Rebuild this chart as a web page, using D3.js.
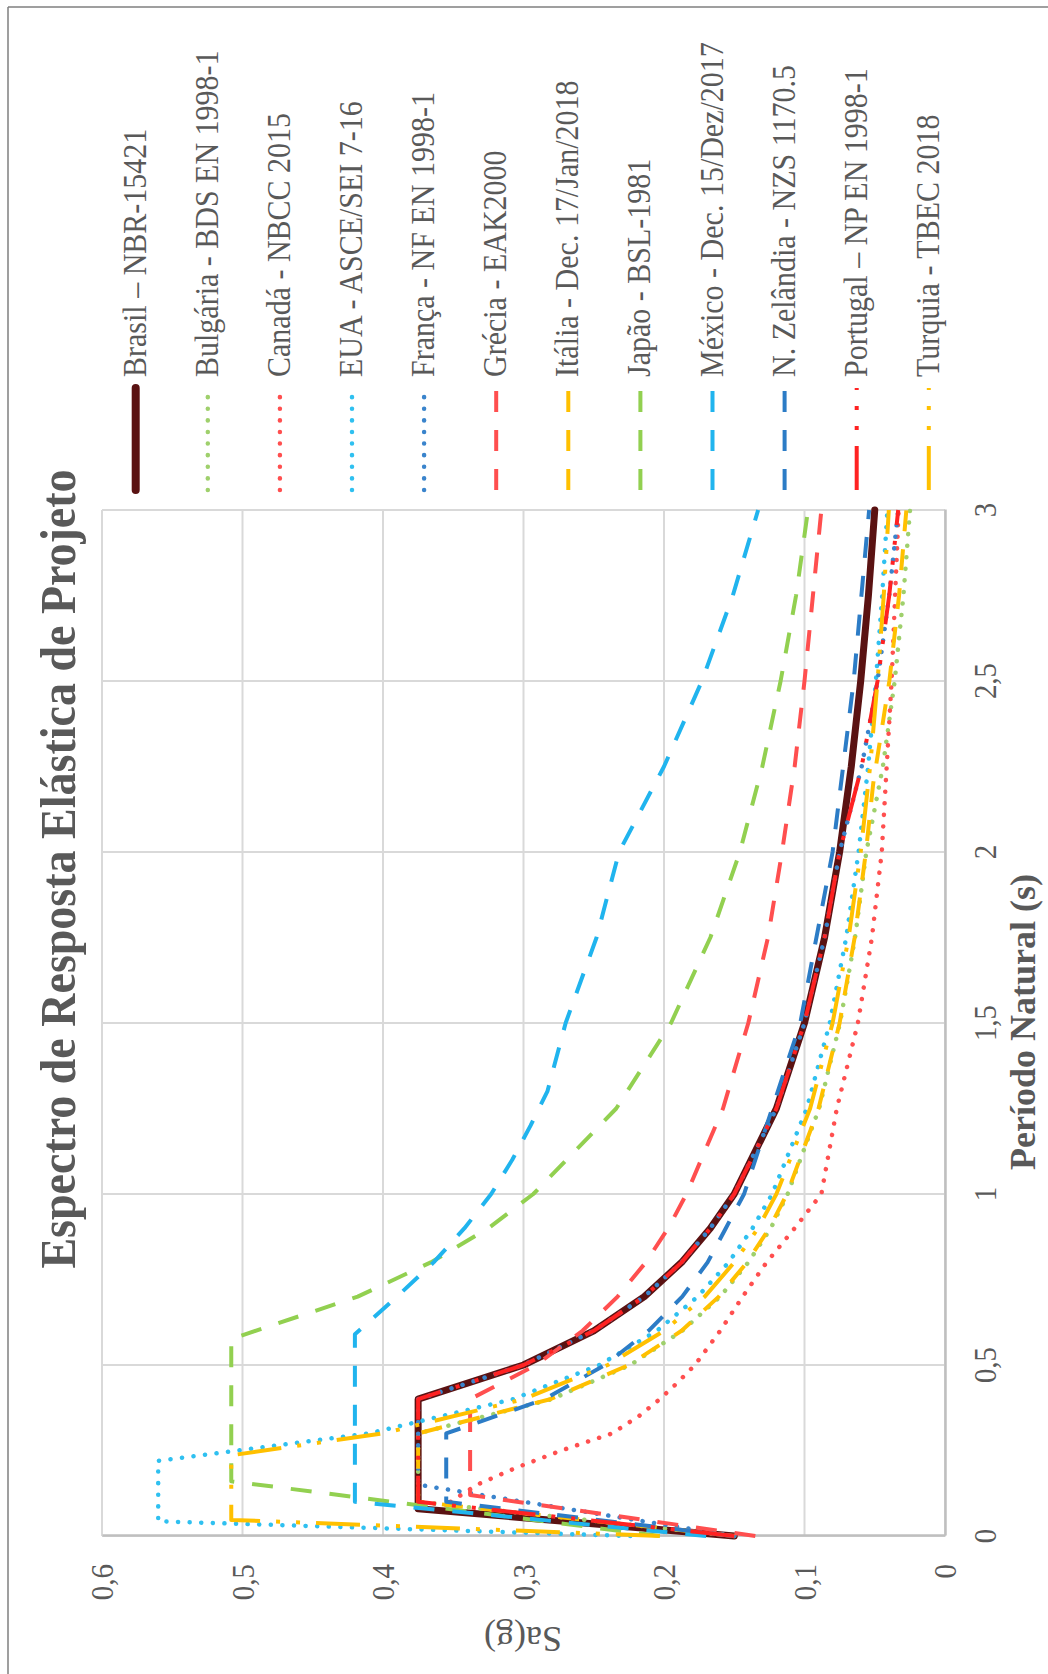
<!DOCTYPE html>
<html><head><meta charset="utf-8">
<script src="https://cdn.jsdelivr.net/npm/d3@7"></script>
<style>html,body{margin:0;padding:0;background:#fff}svg{display:block}</style>
</head><body>
<svg id="c" width="1048" height="1674"></svg>
<script>
// ---- data (period T in s, Sa in g) ----
const seriesNames = ["Brasil – NBR-15421","Bulgária - BDS EN 1998-1","Canadá - NBCC 2015","EUA - ASCE/SEI 7-16","França - NF EN 1998-1","Grécia - EAK2000","Itália - Dec. 17/Jan/2018","Japão - BSL-1981","México - Dec. 15/Dez/2017","N. Zelândia - NZS 1170.5","Portugal – NP EN 1998-1","Turquia - TBEC 2018"];
const brasil = [[0,0.15],[0.08,0.375],[0.4,0.375],[0.5,0.3],[0.6,0.25],[0.7,0.214],[0.8,0.1875],[0.9,0.167],[1,0.15],[1.25,0.12],[1.5,0.1],[1.75,0.0857],[2,0.075],[2.25,0.0667],[2.5,0.06],[2.75,0.0545],[3,0.05]];
const bulgaria = [[0,0.15],[0.1,0.375],[0.3,0.375],[0.4,0.28],[0.5,0.224],[0.6,0.187],[0.7,0.16],[0.8,0.14],[0.9,0.124],[1,0.112],[1.25,0.0896],[1.5,0.0747],[1.75,0.064],[2,0.056],[2.25,0.0442],[2.5,0.0358],[2.75,0.0296],[3,0.0249]];
const canada = [[0.1,0.352],[0.15,0.333],[0.2,0.305],[0.25,0.273],[0.3,0.237],[0.35,0.218],[0.4,0.203],[0.45,0.19],[0.5,0.178],[0.6,0.16],[0.7,0.144],[0.8,0.127],[0.9,0.107],[1,0.088],[1.25,0.077],[1.5,0.062],[1.75,0.052],[2,0.045],[2.5,0.038],[3,0.033]];
const eua = [[0,0.224],[0.043,0.56],[0.22,0.56],[0.3,0.41],[0.4,0.3075],[0.5,0.246],[0.6,0.205],[0.7,0.176],[0.8,0.154],[0.9,0.137],[1,0.123],[1.25,0.0984],[1.5,0.082],[1.75,0.0703],[2,0.0615],[2.25,0.0547],[2.5,0.0492],[2.75,0.0447],[3,0.041]];
const franca = [[0,0.15],[0.15,0.375],[0.4,0.375],[0.5,0.3],[0.6,0.25],[0.7,0.214],[0.8,0.1875],[0.9,0.167],[1,0.15],[1.25,0.12],[1.5,0.1],[1.75,0.0857],[2,0.075],[2.25,0.0593],[2.5,0.048],[2.75,0.0397],[3,0.0333]];
const grecia = [[0,0.135],[0.12,0.338],[0.4,0.338],[0.5,0.291],[0.6,0.258],[0.7,0.233],[0.8,0.213],[0.9,0.197],[1,0.184],[1.25,0.158],[1.5,0.14],[1.75,0.126],[2,0.116],[2.25,0.107],[2.5,0.1],[2.75,0.094],[3,0.088]];
const italia = [[0,0.15],[0.1,0.375],[0.3,0.375],[0.4,0.281],[0.5,0.225],[0.6,0.1875],[0.7,0.161],[0.8,0.141],[0.9,0.125],[1,0.1125],[1.25,0.09],[1.5,0.075],[1.75,0.0643],[2,0.0563],[2.2,0.0511],[2.5,0.0396],[2.75,0.0327],[3,0.0275]];
const japao = [[0,0.203],[0.16,0.508],[0.576,0.508],[0.7,0.418],[0.8,0.366],[0.9,0.325],[1,0.293],[1.25,0.234],[1.5,0.195],[1.75,0.167],[2,0.146],[2.25,0.13],[2.5,0.117],[2.75,0.106],[3,0.0975]];
const mexico = [[0,0.17],[0.1,0.42],[0.59,0.42],[0.63,0.409],[0.7,0.39],[0.8,0.364],[0.9,0.342],[1,0.323],[1.1,0.308],[1.2,0.295],[1.3,0.283],[1.5,0.27],[1.75,0.248],[2,0.232],[2.25,0.2],[2.5,0.173],[2.75,0.151],[3,0.133]];
const nzelandia = [[0,0.151],[0.1,0.355],[0.3,0.355],[0.4,0.285],[0.5,0.242],[0.6,0.211],[0.7,0.187],[0.8,0.169],[0.9,0.156],[1,0.143],[1.5,0.103],[2,0.08],[2.5,0.065],[3,0.054]];
const portugal = [[0,0.15],[0.1,0.375],[0.4,0.375],[0.5,0.3],[0.6,0.25],[0.7,0.214],[0.8,0.1875],[0.9,0.167],[1,0.15],[1.25,0.12],[1.5,0.1],[1.75,0.0857],[2,0.075],[2.25,0.0593],[2.5,0.048],[2.75,0.0397],[3,0.0333]];
const turquia = [[0,0.203],[0.047,0.508],[0.236,0.508],[0.3,0.4],[0.4,0.3],[0.5,0.24],[0.6,0.2],[0.7,0.171],[0.8,0.15],[0.9,0.133],[1,0.12],[1.25,0.096],[1.5,0.08],[1.75,0.0686],[2,0.06],[2.25,0.0533],[2.5,0.048],[2.75,0.0436],[3,0.04]];
const periodTicks = [0,0.5,1,1.5,2,2.5,3];
const saTicks = [0,0.1,0.2,0.3,0.4,0.5,0.6];
const title = "Espectro de Resposta Elástica de Projeto";
const xTitle = "Período Natural (s)";
const yTitle = "Sa(g)";

// ---- styles ----
const allData = [brasil,bulgaria,canada,eua,franca,grecia,italia,japao,mexico,nzelandia,portugal,turquia];
const DOT = "0.1 11.5", DASH = "21 18", LDD = "44 16 4 16 4 16";
const styles = [
  {c:"#5a1212", w:7, d:null, cap:"round"},
  {c:"#9fd06c", w:4.5, d:DOT, cap:"round"},
  {c:"#ff4f4f", w:4.5, d:DOT, cap:"round"},
  {c:"#2fc0f0", w:4.5, d:DOT, cap:"round"},
  {c:"#3a84cc", w:4.5, d:DOT, cap:"round"},
  {c:"#ff4f4f", w:4, d:DASH, cap:"butt"},
  {c:"#ffc000", w:4, d:DASH, cap:"butt"},
  {c:"#92d050", w:4, d:DASH, cap:"butt"},
  {c:"#20b4ee", w:4, d:DASH, cap:"butt"},
  {c:"#2c7cc6", w:4, d:DASH, cap:"butt"},
  {c:"#ff2222", w:4, d:LDD, cap:"butt"},
  {c:"#ffc000", w:4, d:LDD, cap:"butt"}
];

const svg = d3.select("#c");
// outer frame
svg.append("line").attr("x1",8).attr("y1",7).attr("x2",1048).attr("y2",7).attr("stroke","#7f7f7f").attr("stroke-width",1.5);
svg.append("line").attr("x1",8).attr("y1",7).attr("x2",8).attr("y2",1674).attr("stroke","#7f7f7f").attr("stroke-width",1.5);

// the chart is drawn in an unrotated frame then turned 90° counter-clockwise
const g = svg.append("g").attr("transform","translate(0,1674) rotate(-90)");
const x = d3.scaleLinear().domain([0,3]).range([138,1164]);
const y = d3.scaleLinear().domain([0,0.6]).range([945,102]);
const FONT = "'Liberation Serif','Times New Roman',serif";
const GRAY = "#595959";

// grid
g.append("g").selectAll("line").data(periodTicks).join("line")
  .attr("x1",d=>x(d)).attr("x2",d=>x(d)).attr("y1",y(0.6)).attr("y2",y(0))
  .attr("stroke","#d9d9d9").attr("stroke-width",2);
g.append("g").selectAll("line").data(saTicks).join("line")
  .attr("x1",x(0)).attr("x2",x(3)).attr("y1",d=>y(d)).attr("y2",d=>y(d))
  .attr("stroke","#d9d9d9").attr("stroke-width",2);
// axes (lines only, labels below)
const xAxis = d3.axisBottom(x).tickValues(periodTicks).tickSize(0).tickFormat("");
const yAxis = d3.axisLeft(y).tickValues(saTicks).tickSize(0).tickFormat("");
g.append("g").attr("transform",`translate(0,${y(0)})`).call(xAxis).select(".domain").attr("stroke","#bfbfbf").attr("stroke-width",2.5);
g.append("g").attr("transform",`translate(${x(0)},0)`).call(yAxis).select(".domain").attr("stroke","#bfbfbf").attr("stroke-width",2.5);

const fmt = v => String(+v.toFixed(2)).replace(".",",");
// tick labels
g.append("g").selectAll("text").data(periodTicks).join("text")
  .attr("transform",d=>`translate(${x(d)},996) scale(1,1.12)`)
  .attr("text-anchor","middle").attr("font-family",FONT).attr("font-size",29).attr("fill",GRAY)
  .text(fmt);
g.append("g").selectAll("text").data(saTicks).join("text")
  .attr("transform",d=>`translate(110,${y(d)+11}) scale(1,1.12)`)
  .attr("text-anchor","end").attr("font-family",FONT).attr("font-size",29).attr("fill",GRAY)
  .text(fmt);

// series
const line = d3.line().x(d=>x(d[0])).y(d=>y(d[1]));
const plot = g.append("g");
plot.selectAll("path").data(allData).join("path")
  .attr("d",line).attr("fill","none")
  .attr("stroke",(d,i)=>styles[i].c).attr("stroke-width",(d,i)=>styles[i].w)
  .attr("stroke-dasharray",(d,i)=>styles[i].d).attr("stroke-linecap",(d,i)=>styles[i].cap)
  .attr("stroke-linejoin","round");

// titles
g.append("text").attr("transform",`translate(805,75) scale(1,1.1)`).attr("text-anchor","middle")
  .attr("font-family",FONT).attr("font-weight","bold").attr("font-size",46).attr("fill",GRAY).text(title);
g.append("text").attr("transform",`translate(652,1035)`).attr("text-anchor","middle")
  .attr("font-family",FONT).attr("font-weight","bold").attr("font-size",36).attr("fill",GRAY)
  .text(xTitle);
g.append("text").attr("transform",`translate(47,523) rotate(-90)`).attr("text-anchor","middle")
  .attr("font-family",FONT).attr("font-size",36).attr("fill",GRAY).text(yTitle);

// legend
const leg = g.append("g").selectAll("g").data(seriesNames).join("g")
  .attr("transform",(d,i)=>`translate(0,${135.7+72.1*i})`);
leg.append("line").attr("x1",1184).attr("x2",1286).attr("y1",0).attr("y2",0)
  .attr("stroke",(d,i)=>styles[i].c).attr("stroke-width",(d,i)=>i===0?8:styles[i].w)
  .attr("stroke-dasharray",(d,i)=>styles[i].d).attr("stroke-linecap",(d,i)=>styles[i].cap);
leg.append("text").attr("transform","translate(1297,10) scale(1,1.12)")
  .attr("font-family",FONT).attr("font-size",30).attr("fill",GRAY).text(d=>d);
</script>
</body></html>
